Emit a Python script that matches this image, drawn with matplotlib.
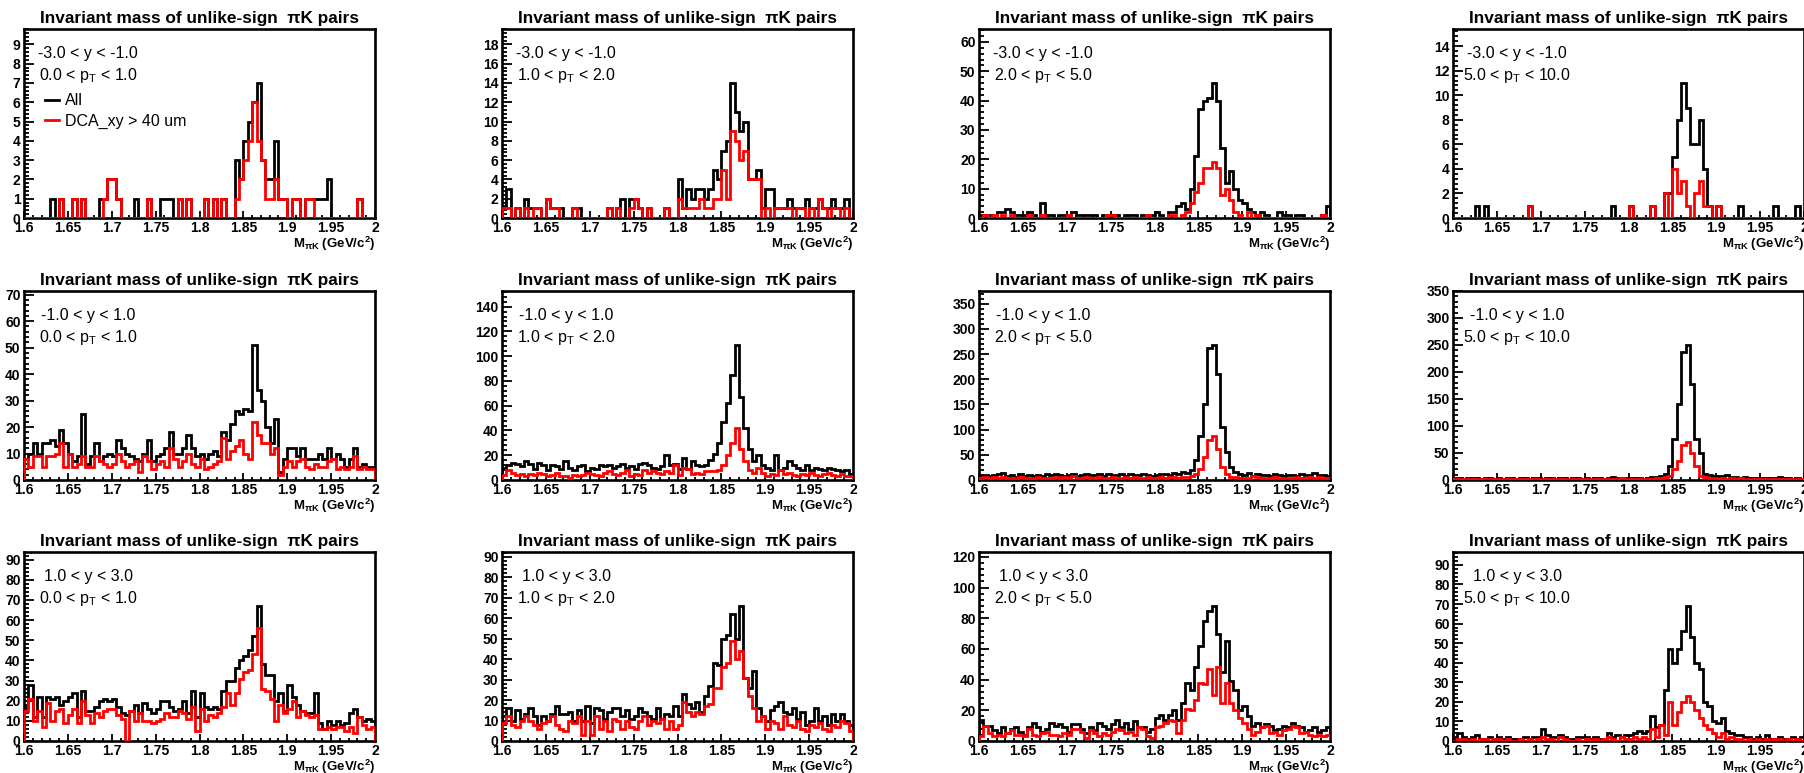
import numpy as np
import matplotlib
matplotlib.use("Agg")
import matplotlib.pyplot as plt
from matplotlib.ticker import MultipleLocator, AutoMinorLocator, FormatStrFormatter
from matplotlib.lines import Line2D

plt.rcParams['font.family'] = ['Liberation Sans', 'DejaVu Sans']
plt.rcParams['mathtext.fontset'] = 'custom'
plt.rcParams['mathtext.rm'] = 'Liberation Sans'
plt.rcParams['mathtext.it'] = 'Liberation Sans:italic'
plt.rcParams['mathtext.bf'] = 'Liberation Sans:bold'
plt.rcParams['mathtext.default'] = 'regular'

# ---------------- data ----------------
x_lo, x_hi, n_bins = 1.6, 2.0, 80

y_labels = ["-3.0 < y < -1.0", "-1.0 < y < 1.0", "1.0 < y < 3.0"]
pt_labels = ["0.0 < p$_{T}$ < 1.0", "1.0 < p$_{T}$ < 2.0",
             "2.0 < p$_{T}$ < 5.0", "5.0 < p$_{T}$ < 10.0"]
title_text = "Invariant mass of unlike-sign  \u03c0K pairs"
xlabel_text = "M$_{\\pi K}$ (GeV/c$^{2}$)"
legend_labels = ["All", "DCA_xy > 40 um"]
y_tick_steps = [[1, 2, 10, 2], [10, 20, 50, 50], [10, 10, 20, 10]]

# row 0 : -3 < y < -1
all_00 = [0,0,0,0,0,0,1,0,1,0, 0,1,0,1,0,0,0,1,1,2, 2,1,0,0,0,1,0,0,1,0,
          0,1,1,1,0,1,0,1,0,0, 0,1,0,1,0,1,0,0,3,2, 4,5,6,7,3,2,2,4,1,1,
          0,1,1,0,1,1,1,1,1,2, 0,0,0,0,0,0,1,0,0,0]
dca_00 = [0,0,0,0,0,0,0,0,1,0, 0,1,0,1,0,0,0,0,1,2, 2,1,0,0,0,0,0,0,1,0,
          0,0,0,0,0,1,0,1,0,0, 0,1,0,1,0,1,0,0,1,2, 3,4,6,4,3,1,1,2,1,1,
          0,1,1,0,1,1,0,0,0,0, 0,0,0,0,0,0,1,0,0,0]
all_01 = [1,3,0,1,0,2,1,1,1,0, 2,1,1,1,0,0,1,1,0,0, 0,0,0,0,1,0,1,2,0,2,
          2,1,0,1,0,0,0,1,0,0, 4,1,3,2,3,3,2,3,5,4, 7,8,14,11,9,10,4,4,5,1,
          3,3,1,1,1,2,1,1,1,2, 1,1,2,1,1,2,1,1,2,0]
dca_01 = [1,1,0,1,0,1,0,1,1,0, 2,1,1,0,0,0,1,0,0,0, 0,0,0,0,1,0,1,0,0,1,
          2,1,0,1,0,0,0,1,0,0, 2,1,1,1,1,2,1,1,2,2, 5,2,9,8,6,7,4,4,4,0,
          1,0,1,1,1,1,0,1,1,0, 1,0,2,1,0,1,1,0,1,0]
all_02 = [1,1,1,0,2,2,3,2,1,1, 1,2,1,0,5,1,1,0,1,1, 0,2,1,1,1,1,1,0,1,1,
          1,1,0,1,1,1,0,1,1,1, 2,1,0,2,2,4,5,3,10,21, 37,40,41,46,40,24,12,16,10,6,
          5,3,2,1,2,1,0,0,2,1, 1,0,1,1,0,0,0,0,1,4]
dca_02 = [0,1,0,1,0,1,0,1,0,0, 0,1,0,0,1,0,0,0,0,0, 1,0,0,0,0,0,0,0,0,1,
          1,0,0,0,0,0,0,0,1,0, 0,0,0,1,1,0,1,2,5,9, 12,17,17,19,17,8,10,6,2,1,
          0,2,0,1,0,0,0,0,0,0, 0,0,0,0,0,0,0,0,1,0]
all_03 = [0,0,0,0,0,1,0,1,0,0, 0,0,0,0,0,0,0,1,0,0, 0,0,0,0,0,0,0,0,0,0,
          0,0,0,0,0,0,1,0,0,0, 1,0,0,0,0,1,0,0,2,2, 5,8,11,9,6,6,8,4,1,0,
          1,0,0,0,0,1,0,0,0,0, 0,0,0,1,0,0,0,0,1,0]
dca_03 = [0,0,0,0,0,0,0,0,0,0, 0,0,0,0,0,0,0,1,0,0, 0,0,0,0,0,0,0,0,0,0,
          0,0,0,0,0,0,0,0,0,0, 1,0,0,0,0,1,0,0,2,0, 4,2,3,1,0,2,3,1,1,0,
          1,0,0,0,0,0,0,0,0,0, 0,0,0,0,0,0,0,0,0,0]

# row 1 : -1 < y < 1
all_10 = [8,10,14,10,14,14,15,13,19,14, 10,7,9,25,6,9,14,7,9,10,
          9,15,12,10,9,8,7,10,15,7, 9,10,12,18,10,10,12,17,12,9,
          10,8,10,11,9,18,15,21,26,25, 27,26,51,34,30,20,14,23,3,8,
          12,12,9,12,8,8,8,10,8,12, 8,10,8,5,8,12,5,6,5,5]
dca_10 = [8,5,9,9,5,9,9,10,14,5, 10,5,6,9,5,5,9,7,6,5,
          6,10,7,5,6,7,3,9,7,4, 6,7,5,12,8,5,7,10,6,5,
          8,4,5,6,7,16,8,11,13,15, 10,8,22,17,14,14,10,12,2,5,
          7,5,7,8,5,4,6,5,5,7, 8,4,5,4,5,9,4,5,4,4]
all_11 = [10,12,14,13,11,15,13,9,14,12, 8,12,11,9,15,10,8,11,12,7,
          10,9,12,11,12,10,11,13,10,11, 9,13,14,12,10,9,11,20,12,13,
          9,18,9,15,12,11,12,16,21,30, 47,62,85,109,67,42,25,15,20,12,
          10,8,20,8,10,15,12,10,8,12, 8,10,9,8,10,9,8,7,8,5]
dca_11 = [4,8,6,4,5,3,5,4,6,5, 3,4,6,3,3,2,4,3,4,6,
          5,4,3,6,7,5,4,6,8,3, 5,4,8,6,7,6,5,7,6,12,
          4,10,9,5,6,5,7,7,7,8, 12,20,30,42,25,15,8,6,10,6,
          3,5,4,8,5,6,4,3,5,4, 6,4,3,5,6,4,3,5,3,3]
all_12 = [8,10,8,9,12,14,8,10,6,12, 8,9,7,10,8,11,9,12,10,8,
          9,11,8,10,12,9,10,11,8,12, 10,9,11,8,12,10,9,11,10,8,
          9,11,12,10,14,12,15,13,20,40, 88,150,262,268,210,105,55,25,15,12,
          10,14,8,12,9,10,8,11,9,8, 10,9,8,12,9,10,13,9,10,8]
dca_12 = [4,5,3,6,4,5,3,4,2,5, 3,4,2,5,3,4,3,5,4,6,
          3,8,4,3,5,4,3,6,4,3, 5,4,3,5,4,6,3,4,5,4,
          3,5,4,6,5,4,6,5,8,12, 22,45,80,88,62,25,12,6,5,4,
          3,4,8,5,3,4,3,5,4,3, 4,3,5,4,3,5,3,6,4,3]
all_13 = [3,4,2,3,4,3,2,3,4,2, 3,2,4,3,2,3,4,2,3,3,
          2,3,4,2,3,3,2,4,3,2, 3,2,3,4,2,3,5,4,3,3,
          3,4,3,2,4,5,6,8,12,25, 75,140,237,250,178,75,50,12,10,8,
          8,7,10,6,5,4,5,3,4,3, 4,3,3,4,6,3,4,2,3,2]
dca_13 = [1,2,1,1,2,1,1,2,1,1, 1,2,1,1,1,2,1,1,2,1,
          1,1,2,1,1,2,1,1,1,2, 1,1,2,1,1,1,2,1,3,1,
          1,2,1,1,2,2,3,4,5,8, 20,35,65,70,50,25,8,5,4,3,
          2,3,2,3,2,4,2,1,2,2, 1,2,1,2,1,2,1,1,2,1]

# row 2 : 1 < y < 3
all_20 = [17,28,12,22,12,22,21,22,18,20, 22,24,12,25,15,15,17,20,21,20,
          21,17,14,13,15,18,14,19,16,14, 16,20,20,17,15,16,20,14,25,12,
          24,17,16,17,16,25,30,30,36,40, 42,45,52,67,38,33,33,20,24,15,
          28,22,18,15,14,14,24,9,6,10, 8,10,8,9,14,16,12,10,11,10]
dca_20 = [15,21,10,15,7,19,10,15,16,9, 13,16,9,20,13,9,14,12,15,16,
          16,13,11,0,15,10,14,10,10,9, 10,11,14,12,12,15,14,11,17,5,
          16,10,13,12,14,17,24,18,24,31, 34,35,43,56,26,25,21,10,18,14,
          16,20,12,15,13,12,13,6,6,7, 6,7,7,5,7,4,12,8,6,7]
all_21 = [12,16,10,15,11,13,16,12,8,12, 10,13,17,13,13,14,10,15,10,17,
          9,16,15,11,14,16,16,12,15,11, 12,16,14,12,11,16,11,13,12,17,
          12,23,18,16,19,14,22,27,38,37, 50,52,62,50,66,31,26,34,16,12,
          10,15,17,19,14,13,16,11,14,8, 10,16,10,12,8,13,10,13,10,8]
dca_21 = [9,12,8,7,10,12,10,8,6,9, 10,12,8,6,5,10,9,12,3,10,
          3,12,6,10,5,11,10,6,10,7, 6,10,12,8,10,9,11,6,10,6,
          8,19,14,12,14,13,17,18,26,26, 36,38,49,40,44,31,22,16,10,12,
          6,10,9,6,12,8,7,10,6,5, 8,7,9,6,5,8,7,10,9,5]
all_22 = [14,10,10,7,5,9,5,8,9,6, 4,9,12,9,6,8,12,10,11,9,
          6,11,11,8,5,9,7,12,10,8, 11,14,9,12,8,13,9,9,6,8,
          15,17,14,17,20,14,25,38,33,48, 62,78,85,88,70,45,65,39,33,20,
          23,16,10,12,9,11,10,7,8,10, 9,12,10,9,6,7,9,6,7,9]
dca_22 = [3,10,5,3,4,3,5,7,4,4, 3,8,4,3,5,6,4,4,3,5,
          4,8,8,6,2,7,5,3,5,4, 6,8,7,5,6,4,9,8,3,2,
          9,10,12,14,13,5,14,21,20,27, 38,37,47,30,48,25,38,25,20,15,
          12,8,4,6,9,10,5,6,4,7, 8,10,9,5,6,4,3,4,3,4]
all_23 = [1,4,2,1,2,3,1,1,2,1, 2,1,2,1,1,1,2,1,2,2,
          6,3,2,2,3,2,1,1,2,2, 2,1,2,1,1,4,2,3,2,3,
          3,4,5,4,5,13,7,8,26,47, 40,47,56,69,53,40,37,20,18,10,
          9,12,5,4,3,3,2,2,1,2, 1,3,1,1,2,1,1,2,1,2]
dca_23 = [0,1,1,0,1,0,1,1,0,1, 1,0,1,0,0,1,0,1,0,1,
          2,1,1,0,2,1,0,0,1,0, 1,0,1,0,1,2,1,0,2,1,
          1,2,1,2,1,6,2,8,3,20, 8,15,20,23,20,16,12,8,6,4,
          2,4,1,2,1,1,0,1,0,1, 0,1,0,1,1,0,1,0,1,0]

all_series = [[all_00, all_01, all_02, all_03],
              [all_10, all_11, all_12, all_13],
              [all_20, all_21, all_22, all_23]]
dca_series = [[dca_00, dca_01, dca_02, dca_03],
              [dca_10, dca_11, dca_12, dca_13],
              [dca_20, dca_21, dca_22, dca_23]]

# ---------------- layout ----------------
W, H = 1804, 773
fig = plt.figure(figsize=(W / 100, H / 100), dpi=100)
col_left = [24, 502, 979, 1453]
row_top = [29, 291, 552]
ax_w, ax_h = 351, 189

edges = np.linspace(x_lo, x_hi, n_bins + 1)

for r in range(3):
    for c in range(4):
        ax = fig.add_axes([col_left[c] / W, 1 - (row_top[r] + ax_h) / H, ax_w / W, ax_h / H])
        a = np.array(all_series[r][c], dtype=float)
        d = np.array(dca_series[r][c], dtype=float)
        ax.stairs(a, edges, color='black', linewidth=2.0, baseline=0, zorder=3)
        ax.stairs(d, edges, color='#ff0000', linewidth=2.0, baseline=0, zorder=4)
        ax.set_xlim(x_lo, x_hi)
        ax.set_ylim(0, 1.4 * a.max())

        ax.xaxis.set_major_locator(MultipleLocator(0.05))
        ax.xaxis.set_minor_locator(AutoMinorLocator(5))
        ax.yaxis.set_major_locator(MultipleLocator(y_tick_steps[r][c]))
        ax.yaxis.set_minor_locator(AutoMinorLocator(5))
        ax.xaxis.set_major_formatter(FormatStrFormatter('%g'))
        ax.yaxis.set_major_formatter(FormatStrFormatter('%g'))
        ax.tick_params(axis='both', which='both', direction='in', top=False, right=False,
                       labelsize=10, width=1.3)
        ax.tick_params(axis='y', which='major', length=7, pad=2.5)
        ax.tick_params(axis='y', which='minor', length=3.5)
        ax.tick_params(axis='x', which='major', length=5, pad=2)
        ax.tick_params(axis='x', which='minor', length=2.5)
        for lab in ax.get_xticklabels() + ax.get_yticklabels():
            lab.set_fontweight('bold')
        for s in ax.spines.values():
            s.set_linewidth(1.9)

        ax.set_title(title_text, fontsize=12.4, fontweight='bold', pad=4)
        ax.set_xlabel(xlabel_text, fontsize=9.5, fontweight='bold', loc='right', labelpad=0)

        ax.text(0.183, 0.849, y_labels[r], transform=ax.transAxes, ha='center',
                va='baseline', fontsize=11.5)
        ax.text(0.183, 0.729, pt_labels[c], transform=ax.transAxes, ha='center',
                va='baseline', fontsize=11.5)

        if r == 0 and c == 0:
            handles = [Line2D([], [], color='black', lw=2.0),
                       Line2D([], [], color='#ff0000', lw=2.0)]
            ax.legend(handles, legend_labels, loc='upper left', bbox_to_anchor=(0.06, 0.66),
                      frameon=False, fontsize=11.5, handlelength=0.9, handletextpad=0.35,
                      labelspacing=0.35, borderpad=0, borderaxespad=0)

fig.savefig("out.png", dpi=100)
